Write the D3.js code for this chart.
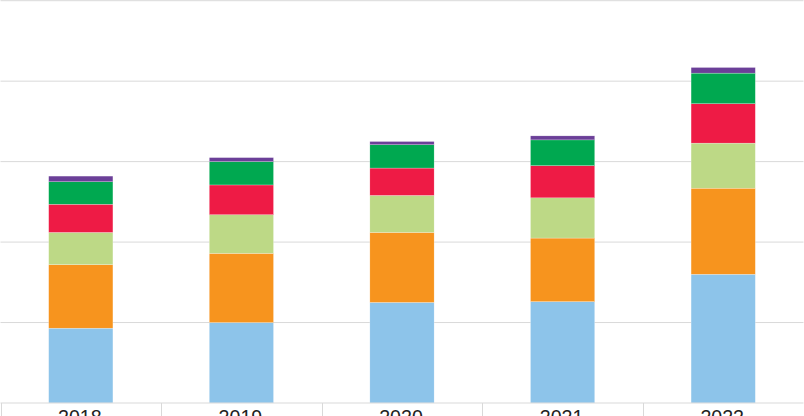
<!DOCTYPE html>
<html>
<head>
<meta charset="utf-8">
<script src="https://cdn.jsdelivr.net/npm/d3@7"></script>
<style>
  html, body { margin: 0; padding: 0; background: #fff; overflow: hidden; }
  svg { display: block; }
</style>
</head>
<body>
<svg id="chart"></svg>
<script>
// years on the x axis
const years = ["2018", "2019", "2020", "2021", "2022"];

// stacked series, bottom to top
const seriesKeys   = ["s1", "s2", "s3", "s4", "s5", "s6"];
const seriesColors = ["#8dc4ea", "#f7941e", "#bdd986", "#ee1b45", "#00a850", "#6b3f98"];
const s1 = [93, 100, 125, 126, 160];
const s2 = [79, 86, 87, 79, 107];
const s3 = [40, 48, 46, 50, 56];
const s4 = [35, 37, 34, 40, 49];
const s5 = [28, 29, 29, 32, 38];
const s6 = [7, 5, 4, 5, 7];

const yTicks = [0, 100, 200, 300, 400, 500];

const main = function() {
  const width = 804, height = 416;
  const left = 0.5, right = 803.5, top = 0.7, bottom = 403;

  const rows = years.map((year, i) => ({
    year: year, s1: s1[i], s2: s2[i], s3: s3[i], s4: s4[i], s5: s5[i], s6: s6[i]
  }));

  const svg = d3.select("#chart")
    .attr("width", width)
    .attr("height", height);

  const x = d3.scaleBand()
    .domain(years)
    .range([left, right])
    .paddingInner(0)
    .paddingOuter(0);

  const y = d3.scaleLinear()
    .domain([0, 500])
    .range([bottom, top]);

  // horizontal gridlines
  svg.append("g")
    .selectAll("line")
    .data(yTicks.slice(1))
    .join("line")
      .attr("x1", left)
      .attr("x2", right)
      .attr("y1", d => y(d))
      .attr("y2", d => y(d))
      .attr("stroke", "#d9d9d9")
      .attr("stroke-width", 1);

  // stacked bars
  const stacked = d3.stack().keys(seriesKeys)(rows);
  const barW = x.bandwidth() * 0.4;

  svg.append("g")
    .selectAll("g")
    .data(stacked)
    .join("g")
      .attr("fill", (d, i) => seriesColors[i])
      .selectAll("rect")
      .data(d => d)
      .join("rect")
        .attr("x", d => x(d.data.year) + (x.bandwidth() - barW) / 2)
        .attr("y", d => y(d[1]))
        .attr("width", barW)
        .attr("height", d => y(d[0]) - y(d[1]))
        .attr("stroke", "#ffffff")
        .attr("stroke-width", 0.4)
        .attr("stroke-opacity", 0.6);

  // x axis with boundary ticks between categories
  const axis = svg.append("g");
  axis.append("line")
    .attr("x1", left)
    .attr("x2", right)
    .attr("y1", bottom)
    .attr("y2", bottom)
    .attr("stroke", "#d9d9d9")
    .attr("stroke-width", 1.2);

  const bounds = years.map(d => x(d)).concat([right]);
  axis.selectAll("line.tick")
    .data(bounds)
    .join("line")
      .attr("class", "tick")
      .attr("x1", d => Math.round(d) + 0.5)
      .attr("x2", d => Math.round(d) + 0.5)
      .attr("y1", bottom)
      .attr("y2", height + 10)
      .attr("stroke", "#d9d9d9")
      .attr("stroke-width", 1);

  axis.selectAll("text")
    .data(years)
    .join("text")
      .attr("x", d => x(d) + x.bandwidth() / 2 - 1)
      .attr("y", 424)
      .attr("text-anchor", "middle")
      .attr("font-family", "'Liberation Sans', Arial, sans-serif")
      .attr("font-size", 19.6)
      .attr("fill", "#222")
      .text(d => d);
}();
</script>
</body>
</html>
